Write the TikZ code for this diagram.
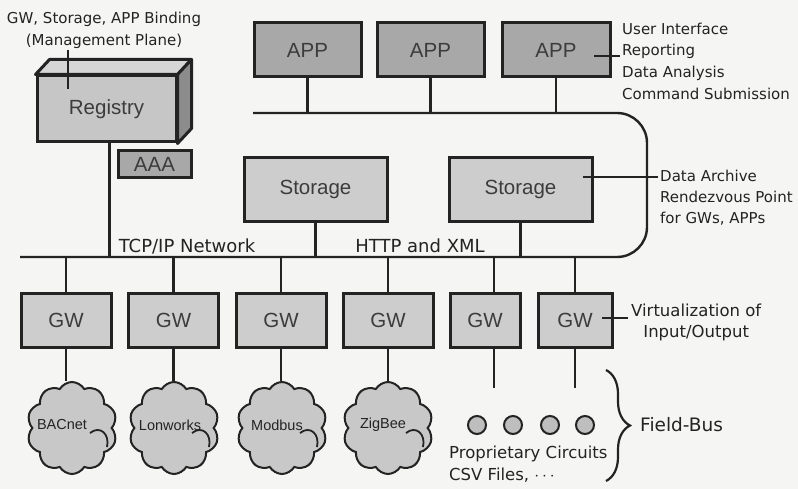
\documentclass[tikz,border=0pt]{standalone}
\usepackage{fontspec}
\setmainfont{DejaVu Sans}
\newfontfamily\boxfont{Liberation Sans}
\usetikzlibrary{shapes.symbols,decorations.pathreplacing,calc}

\definecolor{paper}{RGB}{245,245,243}
\definecolor{ink}{RGB}{35,35,35}
\definecolor{boxtext}{RGB}{60,60,60}
\definecolor{lightbox}{RGB}{205,205,205}
\definecolor{darkbox}{RGB}{168,168,168}
\definecolor{regfront}{RGB}{198,198,198}
\definecolor{regtop}{RGB}{214,214,214}
\definecolor{regside}{RGB}{140,140,140}
\definecolor{cloudfill}{RGB}{200,200,200}
\definecolor{dotfill}{RGB}{190,190,190}

\tikzset{
  box/.style={draw=ink, line width=3pt, inner sep=0pt, text=boxtext,
    font=\boxfont\fontsize{20.5}{24}\selectfont},
  lightbox/.style={box, fill=lightbox},
  darkbox/.style={box, fill=darkbox},
  wire/.style={draw=ink, line width=2.4pt},
  thinwire/.style={draw=ink, line width=1.4pt},
  note/.style={text=ink, inner sep=0pt, align=left},
  netlabel/.style={text=ink, inner sep=0pt, font=\fontsize{18}{21}\selectfont},
  cloudnode/.style={cloud, cloud puffs=10, cloud puff arc=120, aspect=0.95,
    draw=ink, line width=2pt, fill=cloudfill, inner sep=0pt,
    minimum width=90pt, minimum height=92pt},
  cloudlabel/.style={text=ink, inner sep=0pt, font=\boxfont\fontsize{14.5}{17}\selectfont},
  dot/.style={circle, draw=ink, line width=2pt, fill=dotfill,
    minimum size=18pt, inner sep=0pt},
}

\begin{document}
\begin{tikzpicture}[x=1pt, y=-1pt]
  % page
  \fill[paper] (0,0) rectangle (798,489);
  \useasboundingbox (0,0) rectangle (798,489);

  % ---- application layer
  \node[darkbox, minimum width=107pt, minimum height=54pt] (app1) at (307.5,50) {APP};
  \node[darkbox, minimum width=107pt, minimum height=54pt] (app2) at (430.5,50) {APP};
  \node[darkbox, minimum width=108pt, minimum height=54pt] (app3) at (556,50) {APP};

  % ---- registry (3-D block) and AAA
  \node[box, fill=regfront, minimum width=139pt, minimum height=66pt] (reg) at (106.5,109) {Registry};
  \filldraw[fill=regtop, draw=ink, line width=3pt, line join=round]
    (reg.north west) -- ++(14,-15) -- ($(reg.north east)+(14,-15)$) -- (reg.north east) -- cycle;
  \filldraw[fill=regside, draw=ink, line width=3pt, line join=round]
    (reg.north east) -- ++(14,-15) -- ($(reg.south east)+(14,-15)$) -- (reg.south east) -- cycle;
  \node[darkbox, minimum width=73pt, minimum height=27pt] (aaa) at (154.5,164.5) {AAA};

  % ---- storage
  \node[lightbox, minimum width=143pt, minimum height=64pt] (st1) at (315.5,189.5) {Storage};
  \node[lightbox, minimum width=143pt, minimum height=64pt] (st2) at (520.5,189.5) {Storage};

  % ---- gateways
  \node[lightbox, minimum width=90pt, minimum height=54pt] (gw1) at (66,320) {GW};
  \node[lightbox, minimum width=90pt, minimum height=54pt] (gw2) at (173.5,320) {GW};
  \node[lightbox, minimum width=90pt, minimum height=54pt] (gw3) at (281,320) {GW};
  \node[lightbox, minimum width=90pt, minimum height=54pt] (gw4) at (388,320) {GW};
  \node[lightbox, minimum width=70pt, minimum height=54pt] (gw5) at (485,320) {GW};
  \node[lightbox, minimum width=74pt, minimum height=54pt] (gw6) at (575,320) {GW};

  % ---- network bus: TCP/IP line looping up to the APP line
  \coordinate (busL) at (20,257);
  \coordinate (busR) at (647,257);
  \coordinate (topR) at (647,113);
  \coordinate (topL) at (253,113);
  \draw[wire, rounded corners=30pt] (busL) -- (busR) -- (topR) -- (topL);

  \node[netlabel] (tcp) at (187,246) {TCP/IP Network};
  \node[netlabel] (http) at (420,246) {HTTP and XML};

  % drops to the bus
  \foreach \a in {app1,app2,app3}
    \draw[wire] (\a.south) -- (\a.south |- topL);
  \draw[wire] ([xshift=3pt]reg.south) -- ([xshift=3pt]reg.south |- busL);
  \draw[wire] (st1.south) -- (st1.south |- busL);
  \draw[wire] (st2.south) -- (st2.south |- busL);
  \foreach \g in {gw1,gw2,gw3,gw4,gw6}
    \draw[wire] (\g.north) -- (\g.north |- busL);
  \draw[wire] ([xshift=9pt]gw5.north) -- ([xshift=9pt]gw5.north |- busL);

  % ---- field buses
  \node[cloudnode] (c1) at (72,428) {};
  \node[cloudnode] (c2) at (174,428) {};
  \node[cloudnode] (c3) at (282,428) {};
  \node[cloudnode] (c4) at (388,428) {};
  \foreach \c in {c1,c2,c3,c4}
    \draw[ink, line width=1.8pt]
      ($(\c.center)+(18,5)$) .. controls ($(\c.center)+(28,-3)$) and ($(\c.center)+(38,6)$) .. ($(\c.center)+(35,19)$);
  \node[cloudlabel] (l1) at (62,425) {BACnet};
  \node[cloudlabel] (l2) at (170,425) {Lonworks};
  \node[cloudlabel] (l3) at (277,425) {Modbus};
  \node[cloudlabel] (l4) at (383,425) {ZigBee};

  \draw[wire] (gw1.south) -- (gw1.south |- c1.north);
  \draw[wire] (gw2.south) -- (gw2.south |- c2.north);
  \draw[wire] (gw3.south) -- (gw3.south |- c3.north);
  \draw[wire] (gw4.south) -- (gw4.south |- c4.north);

  \coordinate (f5) at (494,388);
  \coordinate (f6) at (575,388);
  \draw[wire] ([xshift=9pt]gw5.south) -- (f5);
  \draw[wire] (gw6.south) -- (f6);

  \node[dot] (d1) at (477,425) {};
  \node[dot] (d2) at (513,425) {};
  \node[dot] (d3) at (550,425) {};
  \node[dot] (d4) at (585,425) {};

  \node[note, anchor=north west, font=\fontsize{16.5}{22}\selectfont] (prop) at (449,446)
    {Proprietary Circuits\\CSV Files, $\cdots$};

  \coordinate (brTop) at (606,370);
  \coordinate (brBot) at (606,481);
  \draw[ink, line width=2.2pt, decorate, decoration={brace, amplitude=24pt}] (brTop) -- (brBot);
  \node[note, anchor=west, font=\fontsize{18.5}{22}\selectfont] (field) at (640,425) {Field-Bus};

  % ---- annotations
  \node[note, align=center, font=\fontsize{15}{22}\selectfont] (mgmt) at (104,30)
    {GW, Storage, APP Binding\\(Management Plane)};
  \coordinate (mgmtTip) at (68,89);
  \draw[thinwire] (68,50) -- (mgmtTip);

  \node[note, anchor=west, font=\fontsize{15}{21.7}\selectfont] (appnote) at (622,61)
    {User Interface\\Reporting\\Data Analysis\\Command Submission};
  \coordinate (appTip) at (594,56);
  \draw[thinwire] (appTip) -- (620,56);

  \node[note, anchor=west, font=\fontsize{15}{21}\selectfont] (stnote) at (660,198)
    {Data Archive\\Rendezvous Point\\for GWs, APPs};
  \coordinate (stTip) at (583,177);
  \draw[thinwire] (stTip) -- (658,177);

  \node[note, align=center, anchor=west, font=\fontsize{16.5}{21}\selectfont] (gwnote) at (631,322)
    {Virtualization of\\Input/Output};
  \coordinate (gwTip) at (602,318);
  \draw[thinwire] (gwTip) -- (628,318);
\end{tikzpicture}
\end{document}
